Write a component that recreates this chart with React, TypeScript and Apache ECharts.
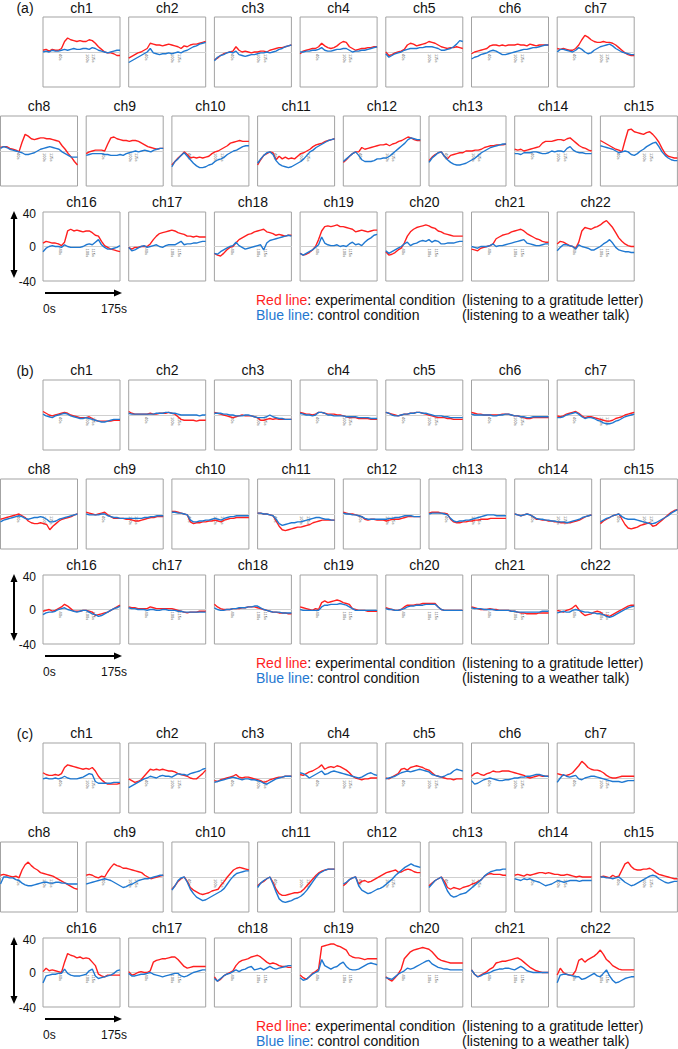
import React, { useEffect, useRef } from 'react';
import * as echarts from 'echarts';

const TIME = [0, 7, 14, 21, 28, 35, 42, 49, 56, 63, 70, 77, 84, 91, 98, 105, 112, 119, 126, 133, 140, 147, 154, 161, 168, 175];
const CHANNELS = ['ch1','ch2','ch3','ch4','ch5','ch6','ch7','ch8','ch9','ch10','ch11','ch12','ch13','ch14','ch15','ch16','ch17','ch18','ch19','ch20','ch21','ch22'];
const TICK_MARKS = [40, 100, 115];
const Y_SCALE_LABELS = ['40', '0', '-40'];
const X_SCALE_LABELS = ['0s', '175s'];
const PANEL_LABELS = ['(a)', '(b)', '(c)'];

const A_RED = [
  [2,3,1,3,2,2,4,12,16,14,13,12,13,12,12,14,13,10,6,3,0,-1,-1,-2,-4,-4],
  [-7,-5,-3,-1,0,2,4,10,9,8,8,7,8,9,8,7,6,4,7,6,8,9,9,10,11,12],
  [-9,-7,-4,-2,-1,0,1,6,2,0,1,0,-1,0,0,1,1,0,2,3,4,5,5,6,7,8],
  [-2,1,2,3,4,4,6,10,7,5,4,5,7,10,12,11,6,4,2,3,4,4,5,5,6,6],
  [0,-4,-3,-1,0,1,3,8,10,9,7,8,9,10,12,11,10,8,6,5,4,5,5,6,5,4],
  [-2,0,1,2,3,4,7,8,8,7,8,7,8,8,8,9,8,8,7,9,8,7,8,8,8,8],
  [4,3,4,3,2,2,4,8,14,19,17,14,12,11,11,12,11,11,10,8,5,2,-1,-3,-4,-4],
  [4,5,5,3,2,1,-1,10,19,17,14,13,14,15,15,14,14,13,12,11,6,2,-3,-7,-12,-16],
  [-3,-1,0,1,1,1,0,8,15,16,14,13,12,12,11,12,12,11,9,7,5,4,3,2,3,3],
  [-16,-12,-8,-5,-1,-4,-8,-7,-8,-7,-8,-7,-6,-3,-1,0,2,4,6,9,10,11,12,11,11,11],
  [-16,-10,-5,-3,-1,-2,-10,-6,-9,-7,-9,-8,-9,-6,-3,-2,0,2,5,7,8,9,11,12,13,14],
  [-13,-10,-6,-3,-1,-1,4,2,3,4,5,6,7,7,8,6,8,9,11,12,14,16,15,13,12,12],
  [-11,-7,-4,-2,-1,-6,-9,-5,-4,-3,-2,-2,0,0,0,1,1,2,4,5,6,6,7,7,7,8],
  [2,1,2,0,1,2,3,4,5,9,11,11,11,12,13,13,12,14,15,12,9,6,4,3,1,0],
  [12,10,8,6,4,2,1,-1,12,24,25,22,21,20,19,21,22,19,15,10,3,-3,-6,-7,-8,-8],
  [4,6,5,4,4,3,1,5,18,20,18,19,18,17,18,18,16,13,12,6,1,-1,-3,-4,-5,-6],
  [-1,-3,-1,-1,0,0,0,3,8,12,15,16,17,18,19,18,16,15,14,12,12,11,12,11,11,11],
  [-8,-10,-11,-8,-4,-1,0,4,8,10,12,14,15,17,18,19,20,17,16,15,13,14,13,12,13,13],
  [-8,-10,-9,-7,-4,0,8,18,23,24,23,24,25,23,23,22,21,20,17,18,19,18,17,18,19,19],
  [-6,-10,-9,-7,-4,-2,4,12,17,20,22,23,24,25,24,22,21,18,17,15,14,13,12,12,12,12],
  [-3,-4,-5,-2,-1,0,1,3,9,11,13,14,15,17,18,19,20,18,15,13,11,9,8,6,5,5],
  [3,6,5,3,1,0,-2,5,18,22,21,20,22,23,25,28,30,26,22,16,10,6,3,1,0,0],
];

const A_BLUE = [
  [0,1,0,2,1,1,2,3,2,3,4,3,3,4,4,3,5,4,2,1,0,-1,0,1,2,2],
  [-12,-10,-8,-6,-4,-2,0,4,-1,-2,-3,-2,-2,-1,-2,-1,0,-1,1,2,4,6,7,9,10,11],
  [-10,-6,-4,-3,-1,0,-1,1,-3,-4,-5,-4,-3,-3,-2,-1,-1,0,-1,0,1,3,4,6,7,8],
  [0,0,1,1,2,2,3,5,2,1,1,2,3,3,4,4,2,0,1,1,2,2,3,4,5,6],
  [-2,-6,-4,-2,-1,0,2,3,4,4,4,5,5,6,6,6,5,4,2,2,3,4,6,9,13,12],
  [-8,-6,-5,-3,-2,-1,1,2,1,-1,-3,-3,-2,-1,0,1,2,3,3,4,5,5,6,7,8,8],
  [0,3,3,2,1,0,2,5,3,0,-2,-1,2,4,6,7,8,9,7,4,2,0,-1,-2,-3,-3],
  [3,5,4,2,1,0,-1,-2,-4,-4,-3,-2,0,2,3,4,5,4,3,2,-1,-3,-5,-7,-7,-7],
  [-5,-4,-3,-3,-3,-3,-4,-4,-5,-5,-5,-4,-5,-3,-2,-1,0,-1,0,1,0,-1,1,2,3,3],
  [-18,-12,-9,-5,-2,-6,-10,-14,-17,-19,-19,-18,-16,-15,-12,-10,-9,-7,-4,-2,0,1,3,5,6,6],
  [-14,-9,-5,-2,-1,-4,-11,-15,-17,-18,-19,-18,-16,-14,-12,-9,-5,-1,1,4,6,8,10,12,13,14],
  [-12,-9,-6,-3,-1,-5,-10,-12,-12,-12,-11,-9,-9,-8,-8,-6,-3,0,3,6,9,13,15,14,13,13],
  [-13,-8,-5,-2,-1,-6,-10,-13,-15,-16,-16,-15,-14,-12,-10,-8,-5,-2,0,2,4,5,6,7,8,8],
  [-3,-3,-4,-2,-2,-2,-1,-1,-2,-3,-3,-2,0,-1,0,0,-1,3,5,1,-1,-2,-2,-3,-3,-3],
  [6,5,4,3,2,0,-2,-1,0,-1,-4,-5,-3,0,2,5,7,9,10,5,-1,-5,-8,-10,-11,-11],
  [-6,-2,0,1,0,0,-1,2,0,-1,-1,-1,-1,0,2,3,2,5,8,2,-1,-3,-3,-2,-1,1],
  [-1,-5,-4,-2,0,1,-1,0,1,2,0,-1,1,2,2,2,4,6,2,3,3,4,4,5,6,6],
  [-8,-9,-6,-4,-2,0,1,5,1,-1,-3,-2,-1,0,1,2,-4,4,7,8,9,10,11,12,13,12],
  [-8,-10,-8,-6,-4,-1,2,11,4,2,1,1,2,0,1,0,3,5,2,3,1,5,8,10,13,14],
  [-5,-8,-6,-4,-2,0,3,5,1,3,4,6,7,6,8,5,7,6,3,3,4,4,4,5,6,6],
  [0,-1,-2,0,0,0,1,3,0,1,1,2,3,4,5,6,7,8,4,3,2,1,1,2,3,3],
  [-5,-1,2,2,1,0,-3,2,0,-1,-2,-4,-4,-2,0,3,5,8,4,-1,-4,-5,-6,-6,-7,-7],
];

const B_RED = [
  [4,2,0,-1,0,1,2,3,2,0,-1,-2,-3,-3,-3,-2,-4,-6,-7,-7,-7,-7,-7,-6,-6,-6],
  [4,2,1,1,1,1,1,2,1,1,2,2,2,3,2,1,-2,-5,-6,-6,-6,-6,-7,-6,-6,-6],
  [3,2,1,0,-1,-2,-3,-2,-1,0,-1,-1,-1,-2,-3,-6,-6,-5,-4,-5,-4,-5,-5,-5,-5,-5],
  [3,2,1,1,0,1,3,3,2,1,1,1,0,0,-1,-2,-3,-3,-3,-4,-4,-4,-4,-5,-5,-5],
  [3,2,1,0,-1,0,1,1,2,2,3,3,2,1,0,-1,-2,-3,-3,-3,-4,-4,-5,-5,-5,-5],
  [3,2,1,1,0,0,0,0,0,0,1,1,1,0,-1,-1,-2,-3,-4,-4,-3,-3,-3,-3,-3,-3],
  [-1,-2,-1,1,2,3,4,2,-1,-3,-2,-2,-3,-4,-5,-6,-7,-7,-6,-4,-3,-2,0,1,2,3],
  [-6,-5,-4,-3,-2,-1,0,-2,-4,-8,-10,-11,-11,-10,-11,-12,-18,-14,-11,-8,-6,-5,-4,-3,-1,0],
  [2,1,0,-1,0,1,2,-1,-3,-5,-5,-5,-5,-6,-6,-7,-8,-8,-7,-6,-5,-4,-4,-3,-3,-3],
  [3,3,2,1,0,-1,-9,-11,-10,-10,-9,-9,-8,-8,-7,-8,-9,-7,-6,-5,-5,-4,-4,-4,-4,-4],
  [1,1,0,0,-1,-2,-8,-14,-18,-19,-18,-17,-16,-15,-15,-14,-13,-12,-10,-9,-8,-7,-7,-7,-7,-7],
  [2,1,0,0,-1,-2,-3,-6,-7,-6,-6,-7,-7,-7,-8,-7,-6,-6,-6,-5,-4,-3,-3,-3,-3,-3],
  [1,2,2,2,1,1,0,-6,-9,-10,-10,-9,-9,-8,-8,-7,-7,-6,-6,-6,-5,-5,-5,-5,-5,-5],
  [0,-1,-2,-1,0,-1,-3,-6,-6,-7,-7,-8,-8,-9,-9,-10,-10,-10,-10,-9,-8,-7,-5,-3,-2,-1],
  [-11,-8,-6,-4,-2,-1,0,-6,-12,-16,-17,-16,-15,-13,-12,-11,-10,-14,-13,-10,-7,-4,-1,2,4,5],
  [-2,-1,0,-2,-1,1,3,6,4,1,-2,-2,-2,-1,-1,-2,-3,-7,-6,-5,-4,-3,-1,1,3,5],
  [3,2,2,1,1,1,1,3,2,1,1,1,1,1,1,0,-1,-2,-3,-4,-3,-3,-3,-2,-2,-2],
  [6,3,1,0,0,0,1,1,1,2,2,3,3,3,2,1,0,-1,-2,-3,-3,-4,-4,-4,-5,-5],
  [3,2,1,0,-1,1,0,8,10,8,9,10,11,10,8,7,6,1,0,-1,-1,-1,-2,-2,-2,-2],
  [2,1,0,-1,-1,0,3,5,5,5,6,6,7,7,7,7,7,3,0,-1,-1,-1,-1,-1,-1,-1],
  [3,2,1,0,0,0,1,0,0,-1,-1,-1,-1,-2,-2,-3,-4,-4,-5,-5,-5,-5,-4,-4,-4,-4],
  [-1,-2,-3,-1,0,2,5,0,-4,-7,-6,-5,-3,-2,-3,-6,-7,-8,-6,-4,-2,0,2,4,5,5],
];

const B_BLUE = [
  [1,-1,-2,-3,-1,0,1,2,1,-1,-2,-3,-4,-4,-3,-4,-5,-6,-7,-8,-8,-7,-6,-5,-5,-5],
  [2,1,1,1,1,1,1,1,1,2,2,2,3,3,2,2,1,0,0,0,0,0,0,-1,0,0],
  [2,2,2,1,1,0,0,-1,-1,-1,0,0,-1,-2,-3,-3,-3,-2,0,-2,-3,-4,-4,-5,-5,-5],
  [2,1,0,0,-1,0,3,3,2,0,0,-1,-1,-1,-1,-2,-2,-2,-2,-3,-3,-3,-3,-4,-4,-4],
  [3,2,0,-1,-1,0,1,1,2,2,3,3,2,2,1,0,-1,-1,-1,-2,-2,-3,-3,-3,-3,-3],
  [1,0,0,0,0,0,0,-1,-1,0,0,1,1,0,-1,-1,-2,-2,-3,-3,-2,-2,-2,-2,-2,-2],
  [-3,-3,-2,0,1,2,3,1,-2,-4,-3,-3,-4,-6,-7,-9,-10,-10,-9,-7,-6,-4,-2,-1,0,1],
  [-9,-7,-6,-5,-4,-3,-2,-3,-5,-6,-5,-4,-4,-3,-4,-6,-9,-9,-8,-6,-5,-4,-3,-2,-1,0],
  [0,-1,-1,-1,-1,0,0,-2,-3,-4,-4,-5,-5,-5,-5,-5,-5,-5,-5,-4,-4,-3,-3,-2,-2,-2],
  [2,2,1,1,0,-1,-7,-9,-9,-8,-8,-7,-7,-6,-5,-6,-7,-5,-4,-3,-3,-2,-2,-2,-2,-2],
  [1,1,0,0,-1,-2,-6,-11,-13,-12,-11,-10,-10,-9,-9,-8,-7,-6,-5,-4,-4,-5,-6,-6,-7,-7],
  [1,0,0,-1,-1,-2,-3,-5,-6,-6,-6,-6,-6,-6,-6,-5,-5,-4,-4,-3,-2,-2,-2,-3,-3,-3],
  [0,1,1,1,1,0,-1,-5,-8,-9,-8,-8,-7,-7,-6,-5,-4,-3,-2,-1,-1,-1,-2,-2,-2,-2],
  [0,-1,-2,-1,0,-1,-3,-5,-6,-6,-7,-7,-8,-8,-9,-9,-9,-10,-9,-8,-7,-6,-4,-3,-2,-1],
  [-9,-7,-5,-4,-2,-1,0,-3,-5,-6,-6,-6,-7,-8,-9,-10,-11,-11,-10,-8,-6,-4,-2,1,3,5],
  [-6,-4,-3,-3,-2,0,1,2,0,-1,-2,-3,-2,-1,-1,-3,-5,-6,-8,-7,-5,-3,-1,1,2,4],
  [2,1,1,0,0,0,-1,0,0,-1,-1,0,0,-1,-1,-1,-2,-2,-3,-3,-3,-3,-3,-3,-3,-3],
  [2,0,-1,-1,0,0,1,1,2,2,2,3,3,4,4,2,0,-1,-2,-3,-3,-3,-4,-4,-4,-4],
  [0,-1,-1,-1,-1,-1,-1,3,5,5,6,6,6,7,6,5,3,1,-1,-1,-1,-1,-1,-1,-1,-1],
  [1,0,0,-1,-1,0,1,3,4,4,5,5,5,6,6,6,6,3,0,-1,-1,-1,-1,-1,-1,-1],
  [2,1,1,1,0,0,0,0,-1,-1,-1,-1,-1,-2,-2,-3,-3,-3,-3,-3,-3,-3,-3,-2,-2,-2],
  [-4,-3,-2,-3,-3,-1,0,-1,-2,-3,-3,-4,-4,-5,-5,-6,-8,-9,-8,-6,-4,-2,0,2,3,4],
];

const C_RED = [
  [6,4,3,3,4,3,5,12,15,14,13,12,11,10,11,10,12,8,2,-2,-5,-7,-7,-7,-7,-6],
  [-1,-3,-5,-4,-2,2,6,10,9,10,9,10,9,8,8,7,5,4,3,2,0,-1,-1,2,5,9],
  [-3,-4,-2,-1,0,1,2,4,1,0,1,1,0,-1,-2,-3,-5,-4,-2,-1,0,1,1,2,2,2],
  [4,3,5,7,8,10,12,15,10,12,13,12,14,13,11,9,6,2,0,-1,-2,-1,-1,0,0,0],
  [0,-1,1,3,5,10,11,9,12,13,14,13,12,10,9,6,3,2,1,0,-1,-1,-2,-1,-1,-1],
  [2,5,6,4,3,5,6,8,7,7,8,8,8,7,6,5,4,3,1,0,1,2,3,2,2,2],
  [5,4,3,3,4,6,10,14,19,16,12,10,9,9,8,6,3,1,0,0,1,2,2,2,2,2],
  [2,3,2,1,0,1,-1,8,14,17,13,10,8,5,4,3,2,1,-1,-3,-5,-7,-9,-11,-13,-14],
  [2,3,2,0,-1,1,0,6,11,15,13,12,10,10,9,8,7,6,5,2,0,-2,-1,0,1,2],
  [-14,-10,-5,-2,0,-5,-12,-15,-17,-19,-20,-19,-18,-16,-15,-14,-9,-5,0,4,8,10,11,10,9,8],
  [-10,-7,-5,-2,0,-6,-14,-19,-21,-21,-20,-19,-18,-18,-17,-14,-10,-6,-2,2,5,7,8,9,9,9],
  [-10,-7,-3,-1,0,-8,-5,-4,-6,-5,-3,-1,1,3,5,6,7,8,5,6,8,9,8,6,5,5],
  [-10,-7,-4,-2,0,-5,-12,-14,-12,-13,-14,-12,-11,-10,-8,-7,-5,-3,1,3,4,3,3,3,2,2],
  [2,3,2,1,3,2,3,4,5,5,4,5,4,3,3,2,2,3,2,1,0,1,0,0,0,0],
  [0,1,0,-1,2,0,1,8,15,17,12,9,8,8,9,9,10,8,5,3,2,1,0,-1,-2,-2],
  [1,5,2,3,2,1,0,12,22,20,19,17,18,16,17,16,12,8,-2,-4,-5,-3,-3,-3,-3,-3],
  [1,-3,-2,0,1,0,0,2,12,14,15,16,16,17,18,18,15,11,7,5,6,7,7,7,7,7],
  [-5,-10,-8,-4,-2,0,2,8,12,14,15,16,18,19,20,18,15,12,10,11,10,8,7,7,6,6],
  [-3,-6,-8,-5,-1,1,4,30,31,32,33,33,31,30,28,26,20,18,17,17,16,15,16,16,16,16],
  [-5,-8,-10,-6,-2,4,16,20,24,26,27,28,29,28,27,24,20,16,14,13,12,11,11,11,11,11],
  [3,-2,-5,-3,-1,1,4,6,11,12,13,13,14,15,16,17,15,12,9,6,4,2,1,0,0,0],
  [-3,5,0,-2,-3,-3,2,14,16,12,15,17,19,22,26,21,15,12,8,6,4,3,3,3,3,3],
];

const C_BLUE = [
  [-1,0,-1,-1,0,-1,0,2,0,-1,-1,-1,0,1,3,5,4,-4,-6,-6,-6,-6,-6,-5,-5,-5],
  [-11,-9,-7,-5,-3,-1,0,2,1,0,2,3,2,2,1,3,5,4,4,3,5,6,7,8,10,11],
  [-5,-4,-3,-2,-1,0,1,0,-1,-2,-1,-1,-2,-2,-3,-4,-6,-7,-5,-3,-1,0,1,2,2,2],
  [6,5,3,0,2,4,6,8,4,5,7,8,7,6,5,4,3,2,1,0,1,3,5,6,4,3],
  [-1,0,1,2,4,6,7,8,7,8,9,10,9,8,7,4,3,2,1,2,4,5,8,10,9,8],
  [-3,-7,-6,-4,-2,-1,0,-1,-2,-3,-3,-2,-2,-1,0,0,1,1,2,2,3,4,4,3,2,2],
  [-5,0,4,2,1,2,3,-1,-2,0,1,2,2,1,0,-1,-2,-3,-4,-4,-4,-5,-4,-3,-3,-3],
  [-8,0,0,-1,-1,-3,-4,-7,-9,-10,-10,-9,-8,-7,-6,-6,-7,-7,-6,-6,-7,-7,-8,-8,-8,-8],
  [-8,-7,-6,-5,-4,-3,-2,-3,-4,-6,-8,-10,-12,-11,-9,-8,-6,-4,-3,-2,-2,-1,0,1,2,2],
  [-15,-10,-4,-1,0,-6,-14,-19,-23,-25,-27,-26,-24,-22,-20,-18,-16,-13,-8,-3,1,4,5,6,7,7],
  [-12,-7,-4,-2,0,-8,-17,-25,-28,-29,-28,-27,-25,-24,-22,-19,-15,-10,-5,0,4,6,8,9,9,9],
  [-8,-6,-3,-1,0,-10,-15,-17,-19,-18,-16,-14,-13,-11,-8,-5,-2,2,5,8,11,13,15,13,12,11],
  [-12,-8,-4,-2,0,-8,-16,-21,-23,-22,-20,-19,-18,-15,-12,-9,-6,-3,1,4,6,7,8,8,9,9],
  [-2,-3,-4,-2,-3,-2,-4,-5,-6,-8,-10,-9,-8,-6,-4,-5,-6,-5,-4,-4,-4,-5,-4,-4,-4,-4],
  [0,0,-1,-1,-2,-1,0,-3,-6,-8,-10,-9,-7,-5,-3,-1,1,2,1,-2,-4,-6,-7,-6,-5,-5],
  [-12,-4,-3,-2,-2,-1,-1,4,-1,-3,-4,-4,-4,-3,-2,2,4,-4,-7,-6,-5,-4,-3,-1,2,3],
  [-1,-4,-4,-3,-2,-2,-1,0,-2,-3,-4,-5,-4,-3,-2,-1,-1,-4,-5,-4,-2,0,1,2,3,3],
  [-7,-10,-7,-4,-2,-1,1,3,1,3,4,6,7,3,4,5,3,5,7,5,4,5,6,7,8,8],
  [-6,-9,-8,-5,-2,0,2,15,8,6,4,6,7,10,12,7,4,3,3,4,6,8,10,11,10,9],
  [-6,-7,-8,-5,-2,0,2,5,4,5,7,9,11,13,14,10,8,6,5,4,4,3,3,3,3,3],
  [3,-2,-5,-4,-2,-1,0,2,3,4,4,5,5,4,3,5,7,5,2,1,0,0,0,0,0,0],
  [-12,-3,-2,-2,-3,-4,-5,-5,-8,-7,-5,-3,-1,-4,-5,-1,3,-4,-9,-12,-11,-9,-7,-6,-5,-5],
];

const RED = '#ff1f1f';
const BLUE = '#1f78d1';
const FONT = "'Liberation Sans', Arial, Helvetica, sans-serif";

const PANEL_STEP = 363;
const ROW_TOP = [17, 116, 212];
const ROW_H = [70, 70, 69];
const ROW_LEFT = [43, 0.5, 43];
const COL_STEP = 85.7;
const BOX_W = 77;

function cellOf(i: number) {
  const row = i < 7 ? 0 : i < 15 ? 1 : 2;
  const col = row === 0 ? i : row === 1 ? i - 7 : i - 15;
  return { row, col };
}

function buildOption() {
  const panels = [
    { red: A_RED, blue: A_BLUE },
    { red: B_RED, blue: B_BLUE },
    { red: C_RED, blue: C_BLUE },
  ];
  const grid: any[] = [];
  const xAxis: any[] = [];
  const yAxis: any[] = [];
  const series: any[] = [];
  const graphic: any[] = [];

  panels.forEach((panel, p) => {
    const off = p * PANEL_STEP;
    CHANNELS.forEach((name, i) => {
      const { row, col } = cellOf(i);
      const left = ROW_LEFT[row] + col * COL_STEP;
      const top = ROW_TOP[row] + off;
      const h = ROW_H[row];
      const idx = grid.length;
      grid.push({
        left, top, width: BOX_W, height: h,
        show: true, borderColor: '#a3a3a3', borderWidth: 1, backgroundColor: 'transparent',
      });
      xAxis.push({
        type: 'value', gridIndex: idx, min: 0, max: 175, position: 'bottom', offset: -h / 2,
        axisLine: { show: true, onZero: false, lineStyle: { color: '#cfcfcf', width: 1 } },
        axisTick: { show: false },
        splitLine: { show: false },
        axisLabel: {
          show: true, customValues: TICK_MARKS, formatter: '{value}s', rotate: -90,
          fontSize: 4, color: '#555', margin: 2, fontFamily: FONT,
        },
      });
      yAxis.push({
        type: 'value', gridIndex: idx, min: -40, max: 40,
        axisLine: { show: false }, axisTick: { show: false },
        axisLabel: { show: false }, splitLine: { show: false },
      });
      series.push({
        type: 'line', xAxisIndex: idx, yAxisIndex: idx, showSymbol: false, symbol: 'none',
        data: TIME.map((t, k) => [t, panel.red[i][k]]),
        lineStyle: { color: RED, width: 1.4 }, itemStyle: { color: RED }, z: 3,
      });
      series.push({
        type: 'line', xAxisIndex: idx, yAxisIndex: idx, showSymbol: false, symbol: 'none',
        data: TIME.map((t, k) => [t, panel.blue[i][k]]),
        lineStyle: { color: BLUE, width: 1.4 }, itemStyle: { color: BLUE }, z: 4,
      });
      graphic.push({
        type: 'text', x: left + BOX_W / 2, y: Math.max(top - 10, 8),
        style: { text: name, fontSize: 14, fontFamily: FONT, fill: '#111', align: 'center', verticalAlign: 'middle' },
      });
    });

    // panel label
    graphic.push({
      type: 'text', x: 25, y: 8 + off,
      style: { text: PANEL_LABELS[p], fontSize: 14, fontFamily: FONT, fill: '#111', align: 'center', verticalAlign: 'middle' },
    });

    // vertical scale arrow
    graphic.push({ type: 'line', shape: { x1: 14, y1: 217 + off, x2: 14, y2: 272 + off }, style: { stroke: '#000', lineWidth: 2 } });
    graphic.push({ type: 'polygon', shape: { points: [[14, 211 + off], [10.5, 219 + off], [17.5, 219 + off]] }, style: { fill: '#000' } });
    graphic.push({ type: 'polygon', shape: { points: [[14, 278 + off], [10.5, 270 + off], [17.5, 270 + off]] }, style: { fill: '#000' } });
    const yl = [214, 247, 282];
    Y_SCALE_LABELS.forEach((t, k) => {
      graphic.push({
        type: 'text', x: 36, y: yl[k] + off,
        style: { text: t, fontSize: 12, fontFamily: FONT, fill: '#111', align: 'right', verticalAlign: 'middle' },
      });
    });

    // horizontal scale arrow
    graphic.push({ type: 'line', shape: { x1: 45, y1: 293 + off, x2: 115, y2: 293 + off }, style: { stroke: '#000', lineWidth: 2 } });
    graphic.push({ type: 'polygon', shape: { points: [[122, 293 + off], [114, 289.5 + off], [114, 296.5 + off]] }, style: { fill: '#000' } });
    graphic.push({
      type: 'text', x: 43, y: 309 + off,
      style: { text: X_SCALE_LABELS[0], fontSize: 12, fontFamily: FONT, fill: '#111', align: 'left', verticalAlign: 'middle' },
    });
    graphic.push({
      type: 'text', x: 127, y: 309 + off,
      style: { text: X_SCALE_LABELS[1], fontSize: 12, fontFamily: FONT, fill: '#111', align: 'right', verticalAlign: 'middle' },
    });

    // legend
    graphic.push({
      type: 'text', x: 256, y: 300 + off,
      style: {
        text: '{r|Red line}: experimental condition', fontSize: 14, fontFamily: FONT, fill: '#111', verticalAlign: 'middle',
        rich: { r: { fill: RED, color: RED, fontSize: 14, fontFamily: FONT } },
      },
    });
    graphic.push({
      type: 'text', x: 462, y: 300 + off,
      style: { text: '(listening to a gratitude letter)', fontSize: 14, fontFamily: FONT, fill: '#111', verticalAlign: 'middle' },
    });
    graphic.push({
      type: 'text', x: 256, y: 315 + off,
      style: {
        text: '{b|Blue line}: control condition', fontSize: 14, fontFamily: FONT, fill: '#111', verticalAlign: 'middle',
        rich: { b: { fill: BLUE, color: BLUE, fontSize: 14, fontFamily: FONT } },
      },
    });
    graphic.push({
      type: 'text', x: 462, y: 315 + off,
      style: { text: '(listening to a weather talk)', fontSize: 14, fontFamily: FONT, fill: '#111', verticalAlign: 'middle' },
    });
  });

  return {
    animation: false,
    backgroundColor: '#ffffff',
    grid, xAxis, yAxis, series, graphic,
  };
}

export default function App() {
  const ref = useRef<HTMLDivElement>(null);
  useEffect(() => {
    document.body.style.margin = '0';
    const chart = echarts.init(ref.current as HTMLDivElement, null, { renderer: 'svg' });
    chart.setOption(buildOption() as any);
    return () => chart.dispose();
  }, []);
  return <div ref={ref} style={{ width: 678, height: 1049 }} />;
}
